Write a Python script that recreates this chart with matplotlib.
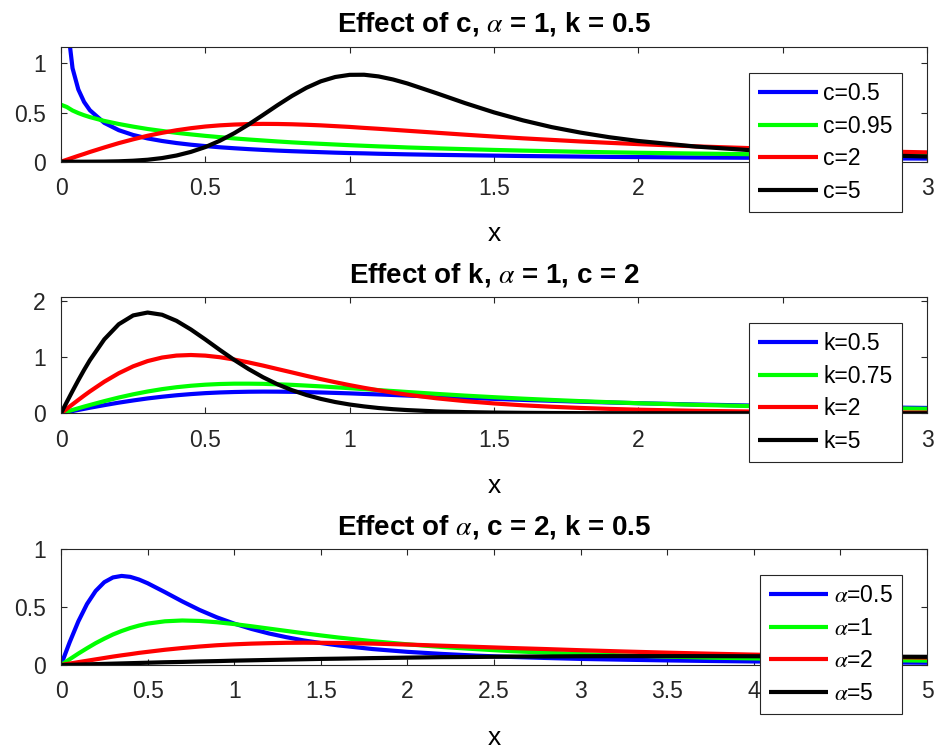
import numpy as np
import matplotlib
matplotlib.use("Agg")
import matplotlib.pyplot as plt
from matplotlib.ticker import FormatStrFormatter

# ---- data ----
# panel 1: effect of c (alpha = 1, k = 0.5)
x1 = [0, 0.02, 0.04, 0.06, 0.08, 0.1, 0.15, 0.2, 0.25, 0.3, 0.35, 0.4, 0.45, 0.5,
      0.55, 0.6, 0.65, 0.7, 0.75, 0.8, 0.85, 0.9, 0.95, 1.0, 1.05, 1.1, 1.15, 1.2,
      1.3, 1.4, 1.5, 1.6, 1.7, 1.8, 1.9, 2.0, 2.2, 2.4, 2.6, 2.8, 3.0]
c_05 = [np.nan, 1.450, 0.951, 0.735, 0.608, 0.524, 0.395, 0.321, 0.272, 0.237, 0.211,
        0.190, 0.173, 0.159, 0.147, 0.137, 0.128, 0.120, 0.113, 0.107, 0.102, 0.097,
        0.092, 0.088, 0.085, 0.081, 0.078, 0.075, 0.070, 0.066, 0.062, 0.058, 0.055,
        0.052, 0.049, 0.047, 0.043, 0.040, 0.037, 0.034, 0.032]
c_095 = [0.580, 0.557, 0.521, 0.495, 0.473, 0.454, 0.415, 0.384, 0.357, 0.333, 0.313,
         0.294, 0.278, 0.263, 0.250, 0.237, 0.226, 0.216, 0.206, 0.197, 0.189, 0.182,
         0.175, 0.168, 0.162, 0.156, 0.151, 0.145, 0.136, 0.128, 0.120, 0.113, 0.107,
         0.101, 0.096, 0.091, 0.083, 0.076, 0.070, 0.064, 0.060]
c_2 = [0, 0.020, 0.040, 0.060, 0.079, 0.099, 0.145, 0.189, 0.228, 0.264, 0.294,
       0.320, 0.341, 0.358, 0.370, 0.378, 0.383, 0.385, 0.384, 0.381, 0.376, 0.370,
       0.362, 0.354, 0.344, 0.335, 0.325, 0.315, 0.295, 0.275, 0.256, 0.238, 0.222,
       0.206, 0.192, 0.179, 0.156, 0.137, 0.120, 0.107, 0.095]
c_5 = [0, 0, 0, 0, 0, 0.0003, 0.0013, 0.004, 0.010, 0.020, 0.037, 0.063, 0.100, 0.149,
       0.213, 0.290, 0.379, 0.476, 0.575, 0.669, 0.752, 0.818, 0.862, 0.884, 0.885,
       0.868, 0.837, 0.796, 0.698, 0.596, 0.502, 0.421, 0.352, 0.296, 0.249, 0.211,
       0.154, 0.115, 0.087, 0.068, 0.053]

# panel 2: effect of k (alpha = 1, c = 2)
x2 = x1
k_05 = c_2
k_075 = [0, 0.030, 0.060, 0.089, 0.119, 0.147, 0.216, 0.280, 0.337, 0.387, 0.429,
         0.463, 0.489, 0.508, 0.520, 0.526, 0.526, 0.523, 0.515, 0.505, 0.492, 0.478,
         0.462, 0.446, 0.429, 0.412, 0.395, 0.378, 0.345, 0.314, 0.286, 0.260, 0.237,
         0.216, 0.197, 0.179, 0.150, 0.127, 0.108, 0.093, 0.080]
k_2 = [0, 0.080, 0.159, 0.237, 0.314, 0.388, 0.561, 0.711, 0.834, 0.927, 0.990,
       1.025, 1.035, 1.024, 0.996, 0.954, 0.903, 0.847, 0.786, 0.726, 0.665, 0.607,
       0.552, 0.500, 0.452, 0.408, 0.367, 0.330, 0.267, 0.216, 0.175, 0.142, 0.116,
       0.095, 0.078, 0.064, 0.044, 0.031, 0.022, 0.016, 0.012]
k_5 = [0, 0.200, 0.396, 0.587, 0.770, 0.942, 1.313, 1.581, 1.738, 1.789, 1.750,
       1.642, 1.488, 1.311, 1.126, 0.948, 0.785, 0.640, 0.515, 0.411, 0.325, 0.256,
       0.200, 0.156, 0.122, 0.094, 0.073, 0.057, 0.034, 0.021, 0.013, 0.008, 0.005,
       0.003, 0.002, 0.001, 0.0006, 0.0003, 0.0001, 0.0001, 0]

# panel 3: effect of alpha (c = 2, k = 0.5)
x3 = [0, 0.05, 0.1, 0.15, 0.2, 0.25, 0.3, 0.35, 0.4, 0.45, 0.5, 0.6, 0.7, 0.8, 0.9,
      1.0, 1.1, 1.2, 1.3, 1.4, 1.5, 1.6, 1.8, 2.0, 2.2, 2.4, 2.6, 2.8, 3.0, 3.25,
      3.5, 3.75, 4.0, 4.25, 4.5, 4.75, 5.0]
a_05 = [0, 0.197, 0.377, 0.527, 0.640, 0.716, 0.757, 0.770, 0.762, 0.739, 0.707,
        0.630, 0.550, 0.476, 0.412, 0.358, 0.312, 0.273, 0.241, 0.213, 0.190, 0.170,
        0.138, 0.114, 0.096, 0.081, 0.070, 0.061, 0.053, 0.046, 0.040, 0.035, 0.031,
        0.027, 0.024, 0.022, 0.020]
a_1 = [0, 0.050, 0.099, 0.145, 0.189, 0.228, 0.264, 0.294, 0.320, 0.341, 0.358,
       0.378, 0.385, 0.381, 0.370, 0.354, 0.335, 0.315, 0.295, 0.275, 0.256, 0.238,
       0.206, 0.179, 0.156, 0.137, 0.120, 0.107, 0.095, 0.083, 0.073, 0.064, 0.057,
       0.051, 0.046, 0.042, 0.038]
a_2 = [0, 0.0125, 0.025, 0.037, 0.049, 0.061, 0.073, 0.084, 0.094, 0.105, 0.114,
       0.132, 0.147, 0.160, 0.171, 0.179, 0.185, 0.189, 0.192, 0.193, 0.192, 0.191,
       0.185, 0.177, 0.167, 0.157, 0.147, 0.138, 0.128, 0.117, 0.107, 0.098, 0.090,
       0.082, 0.075, 0.069, 0.064]
a_5 = [0, 0.002, 0.004, 0.006, 0.008, 0.010, 0.012, 0.014, 0.016, 0.018, 0.020,
       0.024, 0.027, 0.031, 0.034, 0.038, 0.041, 0.044, 0.047, 0.050, 0.053, 0.055,
       0.060, 0.064, 0.068, 0.070, 0.073, 0.074, 0.076, 0.077, 0.077, 0.077, 0.076,
       0.075, 0.074, 0.072, 0.071]

colors = ['#0000ff', '#00ff00', '#ff0000', '#000000']

### format (MATLAB-like)
plt.rcParams['font.family'] = ['Liberation Sans', 'DejaVu Sans']
plt.rcParams['mathtext.fontset'] = 'stix'
plt.rcParams['xtick.direction'] = 'in'
plt.rcParams['ytick.direction'] = 'in'
plt.rcParams['xtick.top'] = True
plt.rcParams['ytick.right'] = True
plt.rcParams['axes.edgecolor'] = '#262626'
plt.rcParams['axes.linewidth'] = 0.8
plt.rcParams['xtick.color'] = '#262626'
plt.rcParams['ytick.color'] = '#262626'
plt.rcParams['xtick.labelcolor'] = '#262626'
plt.rcParams['ytick.labelcolor'] = '#262626'

fig = plt.figure(figsize=(9.36, 7.49), dpi=100)
left, width = 61 / 936, 866 / 936
ax1 = fig.add_axes([left, 0.7841, width, 0.1535])
ax2 = fig.add_axes([left, 0.4482, width, 0.1549])
ax3 = fig.add_axes([left, 0.1121, width, 0.1545])

panels = [
    (ax1, x1, [c_05, c_095, c_2, c_5], ['c=0.5', 'c=0.95', 'c=2', 'c=5'],
     r'Effect of c, $\alpha$ = 1, k = 0.5', 3, 1.17, [0, 0.5, 1], 0.9025),
    (ax2, x2, [k_05, k_075, k_2, k_5], ['k=0.5', 'k=0.75', 'k=2', 'k=5'],
     r'Effect of k, $\alpha$ = 1, c = 2', 3, 2.06, [0, 1, 2], 0.5688),
    (ax3, x3, [a_05, a_1, a_2, a_5],
     [r'$\alpha$=0.5', r'$\alpha$=1', r'$\alpha$=2', r'$\alpha$=5'],
     r'Effect of $\alpha$, c = 2, k = 0.5', 5, 1.0, [0, 0.5, 1], 0.2323),
]

for ax, xs, ys, labels, title, xmax, ymax, yt, legtop in panels:
    for y, col, lab in zip(ys, colors, labels):
        ax.plot(xs, y, color=col, lw=3, label=lab, solid_capstyle='butt')
    ax.set_xlim(0, xmax)
    ax.set_ylim(0, ymax)
    ax.set_xticks(np.arange(0, xmax + 0.01, 0.5))
    ax.set_yticks(yt)
    ax.xaxis.set_major_formatter(FormatStrFormatter('%g'))
    ax.yaxis.set_major_formatter(FormatStrFormatter('%g'))
    ax.tick_params(length=4, width=0.8, pad=11, labelsize=16.5)
    ax.set_title(title, fontsize=20, fontweight='bold', pad=11)
    ax.set_xlabel('x', fontsize=19, labelpad=16)
    leg = ax.legend(loc='upper right', bbox_to_anchor=(0.9637, legtop),
                    bbox_transform=fig.transFigure, borderaxespad=0,
                    fontsize=16.5, handlelength=2.6, handletextpad=0.25,
                    labelspacing=0.42, borderpad=0.4, fancybox=False,
                    framealpha=1, edgecolor='#262626')
    leg.get_frame().set_linewidth(0.8)

plt.savefig("out.png", dpi=100)
